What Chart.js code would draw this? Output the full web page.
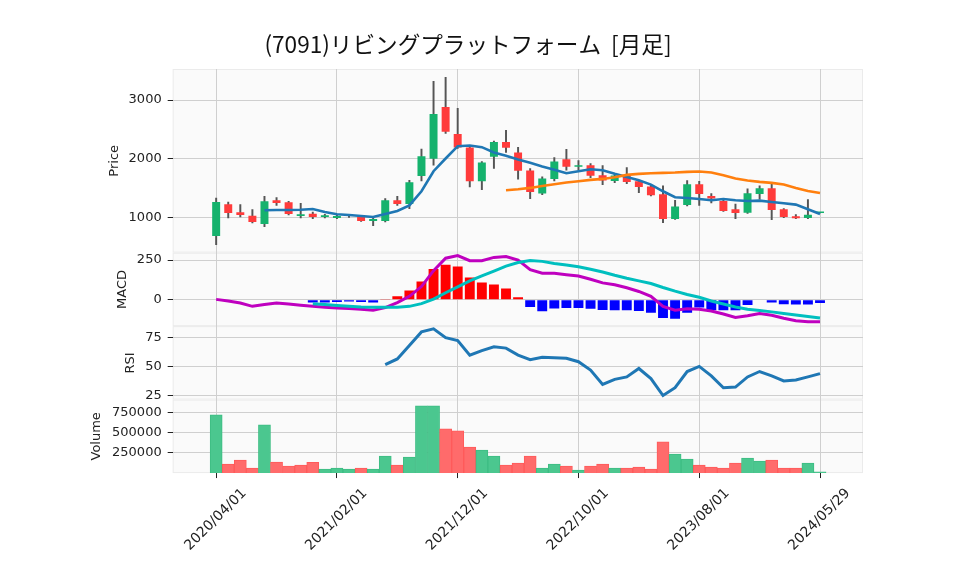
<!DOCTYPE html>
<html>
<head>
<meta charset="utf-8">
<script src="https://cdn.jsdelivr.net/npm/chart.js@4.4.1/dist/chart.umd.min.js"></script>
<style>
  html, body { margin: 0; padding: 0; background: #fff; }
</style>
</head>
<body>
<canvas id="plot" width="958" height="575"></canvas>
<script>
const title = "(7091)リビングプラットフォーム  [月足]";

const months = [
  "2020/04/01", "2020/05/01", "2020/06/01", "2020/07/01", "2020/08/01", "2020/09/01",
  "2020/10/01", "2020/11/01", "2020/12/01", "2021/01/01", "2021/02/01", "2021/03/01",
  "2021/04/01", "2021/05/01", "2021/06/01", "2021/07/01", "2021/08/01", "2021/09/01",
  "2021/10/01", "2021/11/01", "2021/12/01", "2022/01/01", "2022/02/01", "2022/03/01",
  "2022/04/01", "2022/05/01", "2022/06/01", "2022/07/01", "2022/08/01", "2022/09/01",
  "2022/10/01", "2022/11/01", "2022/12/01", "2023/01/01", "2023/02/01", "2023/03/01",
  "2023/04/01", "2023/05/01", "2023/06/01", "2023/07/01", "2023/08/01", "2023/09/01",
  "2023/10/01", "2023/11/01", "2023/12/01", "2024/01/01", "2024/02/01", "2024/03/01",
  "2024/04/01", "2024/05/01", "2024/05/29",
];

const open = [687, 1227, 1091, 1034, 892, 1296, 1261, 1028, 1068, 1011, 994, 1028, 1011, 943, 943, 1296, 1233, 1710, 2000, 2881, 2421, 2194, 1620, 2034, 2285, 2108, 1801, 1409, 1659, 1995, 1864, 1892, 1722, 1625, 1722, 1620, 1529, 1398, 977, 1216, 1568, 1369, 1284, 1142, 1085, 1404, 1500, 1142, 1023, 994, 1080];
const high = [1335, 1267, 1222, 1136, 1364, 1341, 1279, 1244, 1097, 1057, 1051, 1045, 1011, 994, 1324, 1364, 1637, 2165, 3319, 3387, 2859, 2205, 1955, 2302, 2484, 2194, 1836, 1693, 2023, 2160, 1972, 1921, 1887, 1750, 1853, 1637, 1551, 1540, 1296, 1631, 1620, 1409, 1301, 1233, 1489, 1540, 1574, 1153, 1051, 1307, 1091];
const low = [540, 994, 1011, 909, 847, 1210, 1045, 994, 983, 994, 983, 1006, 938, 864, 926, 1210, 1153, 1625, 1892, 2432, 2177, 1523, 1477, 1836, 2108, 1654, 1324, 1392, 1625, 1807, 1813, 1682, 1563, 1597, 1580, 1426, 1369, 915, 972, 1199, 1210, 1250, 1108, 983, 1074, 1313, 966, 1000, 983, 983, 1080];
const close = [1267, 1080, 1045, 926, 1279, 1250, 1063, 1057, 1011, 1040, 1028, 1034, 943, 977, 1296, 1233, 1603, 2046, 2762, 2461, 2194, 1620, 1938, 2285, 2188, 1796, 1438, 1665, 1955, 1864, 1892, 1711, 1631, 1716, 1608, 1523, 1381, 977, 1188, 1568, 1404, 1324, 1114, 1080, 1415, 1500, 1131, 1011, 989, 1051, 1091];

// moving averages (short / long)
const maShort = [null, null, null, null, 1125, 1131, 1131, 1136, 1148, 1097, 1057, 1045, 1028, 1011, 1063, 1114, 1210, 1449, 1790, 2006, 2216, 2228, 2199, 2108, 2052, 1989, 1932, 1870, 1813, 1756, 1790, 1824, 1807, 1745, 1690, 1637, 1563, 1449, 1347, 1335, 1318, 1296, 1318, 1296, 1284, 1290, 1267, 1244, 1222, 1142, 1063];
const maLong = [null, null, null, null, null, null, null, null, null, null, null, null, null, null, null, null, null, null, null, null, null, null, null, null, 1466, 1483, 1506, 1540, 1568, 1597, 1620, 1642, 1659, 1688, 1728, 1745, 1756, 1762, 1767, 1779, 1784, 1767, 1722, 1665, 1631, 1608, 1591, 1563, 1506, 1455, 1421];

const macd = [2, -8, -21, -42, -31, -21, -27, -35, -42, -48, -52, -56, -60, -67, -50, -19, 21, 83, 183, 262, 279, 246, 246, 267, 273, 250, 190, 167, 167, 158, 150, 129, 106, 94, 75, 52, 21, -42, -67, -58, -60, -71, -90, -112, -102, -87, -98, -117, -133, -140, -140];
const signal = [null, null, null, null, null, null, null, null, -25, -31, -37, -42, -46, -48, -48, -48, -42, -25, 4, 44, 81, 119, 150, 181, 212, 235, 248, 242, 229, 219, 208, 192, 175, 154, 135, 119, 102, 77, 54, 33, 15, -8, -27, -46, -60, -69, -77, -87, -96, -106, -115];
const hist = [null, null, null, null, null, null, null, null, -17, -17, -15, -12, -15, -17, 4, 21, 58, 115, 194, 221, 210, 140, 108, 96, 71, 15, -46, -73, -56, -52, -52, -58, -65, -67, -67, -71, -83, -115, -121, -83, -50, -67, -67, -67, -33, -4, -17, -29, -31, -31, -21];

const rsi = [null, null, null, null, null, null, null, null, null, null, null, null, null, null, 51.5, 56.5, 68.2, 80.0, 82.6, 75.0, 72.4, 59.7, 63.8, 67.1, 65.9, 59.9, 55.9, 57.9, 57.6, 57.1, 54.1, 46.8, 34.4, 38.8, 40.9, 48.2, 39.4, 24.7, 31.5, 45.6, 50.0, 41.8, 31.5, 32.1, 40.9, 45.6, 41.8, 37.4, 38.2, 40.9, 43.8];

const volume = [725000, 112500, 162500, 62500, 600000, 137500, 87500, 100000, 133000, 50000, 62500, 50000, 62500, 50000, 212500, 100000, 200000, 837500, 837500, 550000, 525000, 325000, 287500, 212500, 100000, 125000, 212500, 62500, 112500, 87500, 37500, 87500, 112500, 62500, 62500, 75000, 50000, 387500, 237500, 175000, 100000, 75000, 62500, 125000, 187500, 150000, 162500, 62500, 62500, 125000, 16700];
// 1 = green (up) volume bar, 0 = red
const volUp = [1, 0, 0, 0, 1, 0, 0, 0, 0, 1, 1, 1, 0, 1, 1, 0, 1, 1, 1, 0, 0, 0, 1, 1, 0, 0, 0, 1, 1, 0, 1, 0, 0, 1, 0, 0, 0, 0, 1, 1, 0, 0, 0, 0, 1, 1, 0, 0, 0, 1, 1];

const xTickIdx = [0, 10, 20, 30, 40, 50];
const priceTicks = [1000, 2000, 3000];
const macdTicks = [0, 250];
const rsiTicks = [25, 50, 75];
const volTicks = [250000, 500000, 750000];

// colours
const UP = "#15b26d", DOWN = "#ff3b3b";
const VUP = "#4bc78f", VDOWN = "#ff6b6b";
const GRID = "#cfcfcf", TXT = "#222";

const pts = (arr) =>
  arr.map((v, i) => (v == null ? null : { x: i, y: v })).filter((p) => p);

const tickFont = { family: "'DejaVu Sans', sans-serif", size: 13 };

function yAxis(weight, stackWeight, min, max, ticks, label, padTop, padBottom) {
  return {
    type: "linear",
    position: "left",
    stack: "panes",
    stackWeight: stackWeight,
    weight: weight,
    min: min,
    max: max,
    afterBuildTicks: (s) => {
      s.ticks = ticks.map((v) => ({ value: v }));
    },
    ticks: { font: tickFont, color: TXT, padding: 6, callback: (v) => String(v) },
    grid: { color: GRID, tickColor: TXT, tickLength: 5, drawTicks: true },
    border: { display: false },
    title: {
      display: true,
      text: label,
      font: tickFont,
      color: TXT,
      padding: { top: padTop, bottom: padBottom },
    },
  };
}

// panel backgrounds + light frames, and the title
const panes = {
  id: "panes",
  beforeDraw(chart) {
    const { ctx, chartArea } = chart;
    ["yPrice", "yMacd", "yRsi", "yVol"].forEach((id) => {
      const s = chart.scales[id];
      ctx.save();
      ctx.fillStyle = "#fafafa";
      ctx.fillRect(chartArea.left, s.top, chartArea.right - chartArea.left, s.bottom - s.top);
      ctx.strokeStyle = "#ebebeb";
      ctx.lineWidth = 1;
      ctx.strokeRect(chartArea.left + 0.5, s.top + 0.5, chartArea.right - chartArea.left - 1, s.bottom - s.top - 1);
      ctx.restore();
    });
  },
  afterDraw(chart) {
    const ctx = chart.ctx;
    ctx.save();
    ctx.fillStyle = "#111";
    ctx.font = "22.6px 'Noto Sans CJK JP', sans-serif";
    ctx.textAlign = "center";
    ctx.textBaseline = "middle";
    ctx.fillText(title, 468, 44);
    ctx.restore();
  },
};

new Chart(document.getElementById("plot"), {
  data: {
    datasets: [
      {
        type: "bar",
        data: months.map((m, i) => ({ x: i, y: [low[i], high[i]] })),
        backgroundColor: "#555",
        barThickness: 1.3,
        grouped: false,
        yAxisID: "yPrice",
        order: 20,
      },
      {
        type: "bar",
        data: months.map((m, i) => ({ x: i, y: [open[i], close[i]] })),
        backgroundColor: months.map((m, i) => (close[i] >= open[i] ? UP : DOWN)),
        barPercentage: 0.66,
        categoryPercentage: 1,
        minBarLength: 1.5,
        grouped: false,
        yAxisID: "yPrice",
        order: 19,
      },
      {
        type: "line",
        data: pts(maShort),
        borderColor: "#1f77b4",
        borderWidth: 2.6,
        pointRadius: 0,
        yAxisID: "yPrice",
        order: 6,
      },
      {
        type: "line",
        data: pts(maLong),
        borderColor: "#ff7f0e",
        borderWidth: 2.6,
        pointRadius: 0,
        yAxisID: "yPrice",
        order: 5,
      },
      {
        type: "bar",
        data: pts(hist),
        backgroundColor: pts(hist).map((p) => (p.y >= 0 ? "#ff0000" : "#0000ff")),
        barPercentage: 0.82,
        categoryPercentage: 1,
        grouped: false,
        yAxisID: "yMacd",
        order: 15,
      },
      {
        type: "line",
        data: pts(macd),
        borderColor: "#bf00bf",
        borderWidth: 3,
        pointRadius: 0,
        yAxisID: "yMacd",
        order: 4,
      },
      {
        type: "line",
        data: pts(signal),
        borderColor: "#00bfbf",
        borderWidth: 3,
        pointRadius: 0,
        yAxisID: "yMacd",
        order: 3,
      },
      {
        type: "line",
        data: pts(rsi),
        borderColor: "#1f77b4",
        borderWidth: 3,
        pointRadius: 0,
        yAxisID: "yRsi",
        order: 2,
      },
      {
        type: "bar",
        data: pts(volume),
        backgroundColor: volUp.map((u) => (u ? VUP : VDOWN)),
        borderColor: volUp.map((u) => (u ? "#3dbd83" : "#ff5a5a")),
        borderWidth: 1,
        barPercentage: 1,
        categoryPercentage: 1,
        grouped: false,
        yAxisID: "yVol",
        order: 14,
      },
    ],
  },
  options: {
    responsive: false,
    animation: false,
    devicePixelRatio: 1,
    layout: { padding: { left: 87, right: 95, top: 69, bottom: 14 } },
    plugins: { legend: { display: false }, tooltip: { enabled: false } },
    scales: {
      x: {
        type: "linear",
        offset: false,
        min: -3.6,
        max: 53.56,
        afterBuildTicks: (s) => {
          s.ticks = xTickIdx.map((v) => ({ value: v }));
        },
        ticks: {
          font: { family: "'DejaVu Sans', sans-serif", size: 14 },
          color: TXT,
          minRotation: 45,
          maxRotation: 45,
          labelOffset: 28,
          padding: 7,
          callback: (v) => months[v],
        },
        grid: { offset: false, color: GRID, tickColor: TXT, tickLength: 5, drawTicks: true },
        border: { display: false },
      },
      yPrice: yAxis(4, 5, 405, 3528, priceTicks, "Price", 20, 0),
      yMacd: yAxis(3, 2, -167, 297, macdTicks, "MACD", 28, 0),
      yRsi: yAxis(2, 2, 21.2, 85, rsiTicks, "RSI", 36, 0),
      yVol: yAxis(1, 2, 0, 915000, volTicks, "Volume", 2, 1),
    },
  },
  plugins: [panes],
});
</script>
</body>
</html>
